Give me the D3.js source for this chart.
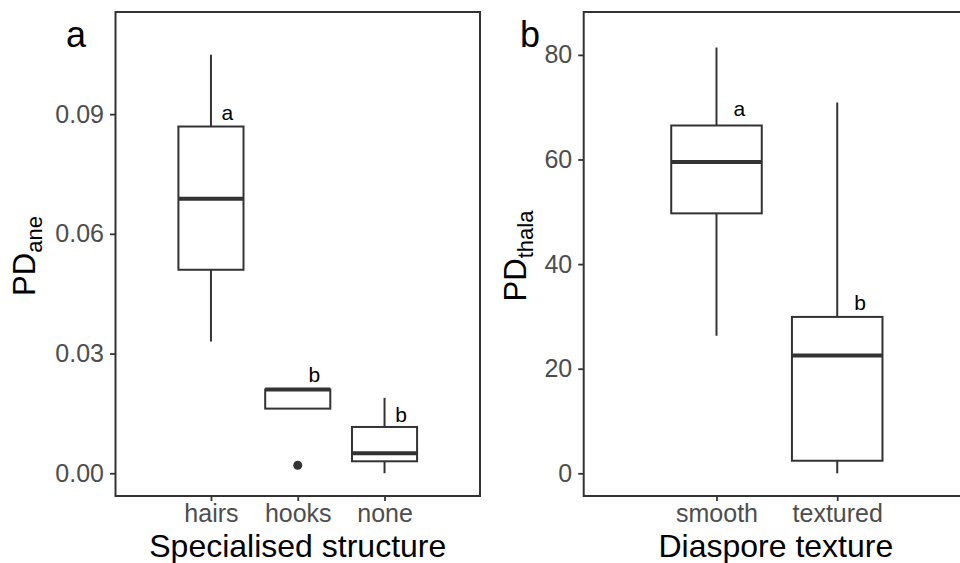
<!DOCTYPE html>
<html>
<head>
<meta charset="utf-8">
<script src="https://cdn.jsdelivr.net/npm/d3@7"></script>
<style>
  body { margin: 0; background: #fff; }
  svg { font-family: "Liberation Sans", Arial, sans-serif; }
</style>
</head>
<body>
<script>
var w = 960,
    h = 563;

// panel a: specialised structure
var structCats = ['hairs', 'hooks', 'none'];
var structMin = [0.0330, 0.0162, 0.0000];
var structQ1 = [0.0510, 0.0162, 0.0030];
var structMed = [0.0688, 0.0210, 0.0050];
var structQ3 = [0.0869, 0.0210, 0.0116];
var structMax = [0.1049, 0.0210, 0.0189];
var structOutliers = [[], [0.0020], []];
var structLetters = ['a', 'b', 'b'];
var structLetterY = [0.0903, 0.0247, 0.0148];
var structTicks = [0, 0.03, 0.06, 0.09];

// panel b: diaspore texture
var textCats = ['smooth', 'textured'];
var textMin = [26.3, 0.0];
var textQ1 = [49.7, 2.4];
var textMed = [59.5, 22.5];
var textQ3 = [66.5, 29.9];
var textMax = [81.4, 70.9];
var textOutliers = [[], []];
var textLetters = ['a', 'b'];
var textLetterY = [69.7, 32.7];
var textTicks = [0, 20, 40, 60, 80];

var svg = d3.select('body')
            .append('svg')
            .attr('width', w)
            .attr('height', h);

svg.append('rect')
   .attr('width', w)
   .attr('height', h)
   .attr('fill', '#fff');

var dark = '#333333';

function drawPanel(p) {
  var x = d3.scalePoint()
            .domain(p.cats)
            .range(p.xRange)
            .padding(1.1);
  var y = d3.scaleLinear()
            .domain(p.yDomain)
            .range([496, 12]);
  var step = x.step(),
      bw = step * 0.75;

  var g = svg.append('g');

  // axes
  var ya = g.append('g')
            .attr('transform', 'translate(' + p.xRange[0] + ',0)')
            .call(d3.axisLeft(y).tickValues(p.ticks).tickFormat(p.fmt)
                    .tickSize(5.5).tickPadding(6));
  var xa = g.append('g')
            .attr('transform', 'translate(0,496)')
            .call(d3.axisBottom(x).tickSize(5).tickPadding(3.5));
  [ya, xa].forEach(function(a) {
    a.select('.domain').remove();
    a.selectAll('line').attr('stroke', dark).attr('stroke-width', 1.8);
    a.selectAll('text')
     .attr('fill', '#4d4d4d')
     .style('font-size', '25px')
     .style('font-family', '"Liberation Sans", Arial, sans-serif');
  });

  // boxes
  var rows = p.cats.map(function(c, i) {
    return {cat: c, min: p.min[i], q1: p.q1[i], med: p.med[i], q3: p.q3[i],
            max: p.max[i], out: p.out[i], lab: p.letters[i], ly: p.letterY[i]};
  });

  var box = g.selectAll('.box')
             .data(rows)
             .enter()
             .append('g')
             .attr('class', 'box');

  box.append('line')
     .attr('x1', function(d) { return x(d.cat); })
     .attr('x2', function(d) { return x(d.cat); })
     .attr('y1', function(d) { return y(d.q3); })
     .attr('y2', function(d) { return y(d.max); })
     .attr('stroke', dark).attr('stroke-width', 2);
  box.append('line')
     .attr('x1', function(d) { return x(d.cat); })
     .attr('x2', function(d) { return x(d.cat); })
     .attr('y1', function(d) { return y(d.q1); })
     .attr('y2', function(d) { return y(d.min); })
     .attr('stroke', dark).attr('stroke-width', 2);
  box.append('rect')
     .attr('x', function(d) { return x(d.cat) - bw / 2; })
     .attr('width', bw)
     .attr('y', function(d) { return y(d.q3); })
     .attr('height', function(d) { return y(d.q1) - y(d.q3); })
     .attr('fill', '#fff')
     .attr('stroke', dark).attr('stroke-width', 2);
  box.append('line')
     .attr('x1', function(d) { return x(d.cat) - bw / 2; })
     .attr('x2', function(d) { return x(d.cat) + bw / 2; })
     .attr('y1', function(d) { return y(d.med); })
     .attr('y2', function(d) { return y(d.med); })
     .attr('stroke', dark).attr('stroke-width', 4);
  box.selectAll('circle')
     .data(function(d) { return d.out.map(function(v) { return {cat: d.cat, v: v}; }); })
     .enter()
     .append('circle')
     .attr('cx', function(d) { return x(d.cat); })
     .attr('cy', function(d) { return y(d.v); })
     .attr('r', 4.5)
     .attr('fill', dark);

  // significance letters
  box.append('text')
     .attr('x', function(d) { return x(d.cat) + step * 0.19; })
     .attr('y', function(d) { return y(d.ly); })
     .attr('dy', '0.35em')
     .attr('text-anchor', 'middle')
     .style('font-size', '21px')
     .attr('fill', '#000')
     .text(function(d) { return d.lab; });

  // panel border
  g.append('rect')
   .attr('x', p.xRange[0])
   .attr('y', 12)
   .attr('width', p.xRange[1] - p.xRange[0])
   .attr('height', 484)
   .attr('fill', 'none')
   .attr('stroke', dark)
   .attr('stroke-width', 2);

  // titles
  g.append('text')
   .attr('x', (p.xRange[0] + Math.min(p.xRange[1], w)) / 2 + p.xTitleShift)
   .attr('y', 556.5)
   .attr('text-anchor', 'middle')
   .style('font-size', '32px')
   .text(p.xTitle);

  var yt = g.append('text')
            .attr('transform', 'translate(' + p.yTitleX + ',256) rotate(-90)')
            .attr('text-anchor', 'middle')
            .style('font-size', '31px');
  yt.append('tspan').text('PD');
  yt.append('tspan').attr('dy', 7).style('font-size', '22px').text(p.ySub);

  g.append('text')
   .attr('x', p.tagX)
   .attr('y', 47)
   .attr('text-anchor', 'middle')
   .style('font-size', '36px')
   .text(p.tag);
}

drawPanel({
  cats: structCats, min: structMin, q1: structQ1, med: structMed, q3: structQ3,
  max: structMax, out: structOutliers, letters: structLetters, letterY: structLetterY,
  ticks: structTicks, fmt: d3.format('.2f'),
  xRange: [115.5, 480], yDomain: [-0.0057, 0.1156],
  xTitle: 'Specialised structure', xTitleShift: 0,
  ySub: 'ane', yTitleX: 35, tag: 'a', tagX: 76
});

drawPanel({
  cats: textCats, min: textMin, q1: textQ1, med: textMed, q3: textQ3,
  max: textMax, out: textOutliers, letters: textLetters, letterY: textLetterY,
  ticks: textTicks, fmt: d3.format('d'),
  xRange: [583.7, 970], yDomain: [-4.34, 88.2],
  xTitle: 'Diaspore texture', xTitleShift: 4,
  ySub: 'thala', yTitleX: 526, tag: 'b', tagX: 530
});
</script>
</body>
</html>
